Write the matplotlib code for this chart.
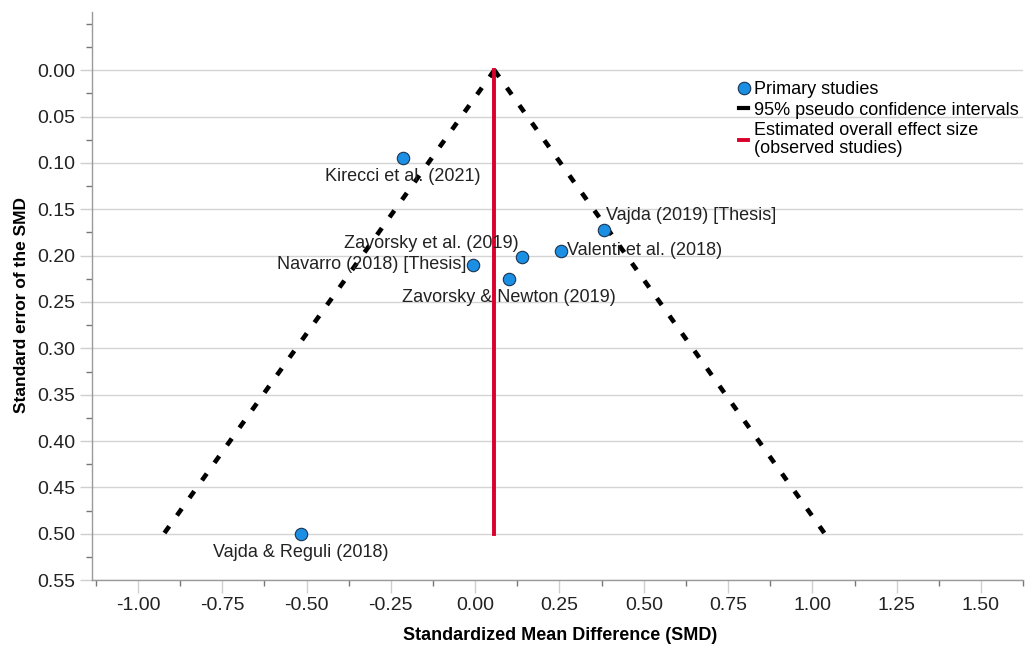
import matplotlib
matplotlib.use('Agg')
import matplotlib.pyplot as plt
from matplotlib.ticker import MultipleLocator, FormatStrFormatter
from matplotlib.lines import Line2D
import numpy as np

plt.rcParams['font.family'] = ['Liberation Sans', 'DejaVu Sans']

# Studies (SMD, standard error)
studies = ['Kirecci et al. (2021)', 'Vajda (2019) [Thesis]', 'Valenti et al. (2018)',
           'Zavorsky et al. (2019)', 'Navarro (2018) [Thesis]', 'Zavorsky & Newton (2019)',
           'Vajda & Reguli (2018)']
smd = [-0.214, 0.383, 0.255, 0.138, -0.007, 0.100, -0.516]
se = [0.095, 0.172, 0.195, 0.202, 0.210, 0.225, 0.500]

overall_smd = 0.057
se_max = 0.50
z95 = 1.96

# label placement: (dx px, dy px, ha, va)
label_pos = [(0, -10, 'center', 'top'),
             (2, 6, 'left', 'bottom'),
             (6, 0, 'left', 'center'),
             (-3, 5, 'right', 'bottom'),
             (-6, 0, 'right', 'center'),
             (0, -10, 'center', 'top'),
             (0, -10, 'center', 'top')]

fig = plt.figure(figsize=(10.25, 6.46), dpi=100)
ax = fig.add_axes([0.0895, 0.102, 0.909, 0.879])

# horizontal grid
ax.grid(axis='y', which='major', color='#d4d4d4', linewidth=1.0)
ax.set_axisbelow(True)

# pseudo confidence funnel
se_line = np.array([0.0, se_max])
ax.plot(overall_smd - z95 * se_line, se_line, color='black', linewidth=3.3,
        dashes=(1.8, 2.9), zorder=3)
ax.plot(overall_smd + z95 * se_line, se_line, color='black', linewidth=3.3,
        dashes=(1.8, 2.9), zorder=3)

# overall effect
ax.plot([overall_smd, overall_smd], [0.0, se_max], color='#d9002b', linewidth=2.8, zorder=4)

# studies
ax.scatter(smd, se, s=80, color='#1a8fe3', edgecolor='#1b3552', linewidth=0.8, zorder=5)

for name, x, y, (dx, dy, ha, va) in zip(studies, smd, se, label_pos):
    ax.annotate(name, (x, y), xytext=(dx * 0.72, dy * 0.72), textcoords='offset points',
                ha=ha, va=va, fontsize=13, color='#222222', zorder=6)

ax.set_xlim(-1.137, 1.626)
ax.set_ylim(0.55, -0.0625)

ax.xaxis.set_major_locator(MultipleLocator(0.25))
ax.xaxis.set_minor_locator(MultipleLocator(0.125))
ax.yaxis.set_minor_locator(MultipleLocator(0.025))
ax.xaxis.set_major_formatter(FormatStrFormatter('%.2f'))
ax.yaxis.set_major_formatter(FormatStrFormatter('%.2f'))
ax.set_yticks([t for t in np.arange(0, 0.551, 0.05)])

ax.tick_params(which='major', length=9, width=1, color='#cfcfcf', labelsize=14,
               labelcolor='#222222', pad=3)
ax.tick_params(which='minor', length=4, width=1, color='#777777')

for s in ['top', 'right']:
    ax.spines[s].set_visible(False)
for s in ['left', 'bottom']:
    ax.spines[s].set_color('#9a9a9a')
    ax.spines[s].set_linewidth(1)

ax.set_xlabel('Standardized Mean Difference (SMD)', fontsize=13, fontweight='bold')
ax.set_ylabel('Standard error of the SMD', fontsize=12.5, fontweight='bold')
ax.xaxis.set_label_coords(0.503, -0.082)
ax.yaxis.set_label_coords(-0.067, 0.484)

handles = [
    Line2D([], [], marker='o', linestyle='none', markersize=9, markerfacecolor='#1a8fe3',
           markeredgecolor='#1b3552', markeredgewidth=0.8),
    Line2D([], [], color='black', linewidth=3),
    Line2D([], [], color='#d9002b', linewidth=2.8),
]
labels = ['Primary studies', '95% pseudo confidence intervals',
          'Estimated overall effect size\n(observed studies)']
leg = ax.legend(handles, labels, loc='upper left', bbox_to_anchor=(0.687, 0.891),
                frameon=False, fontsize=13, handlelength=0.5, handletextpad=0.35,
                labelspacing=0.18, borderaxespad=0)
for t in leg.get_texts():
    t.set_linespacing(1.1)

fig.savefig('out.png', dpi=100)
